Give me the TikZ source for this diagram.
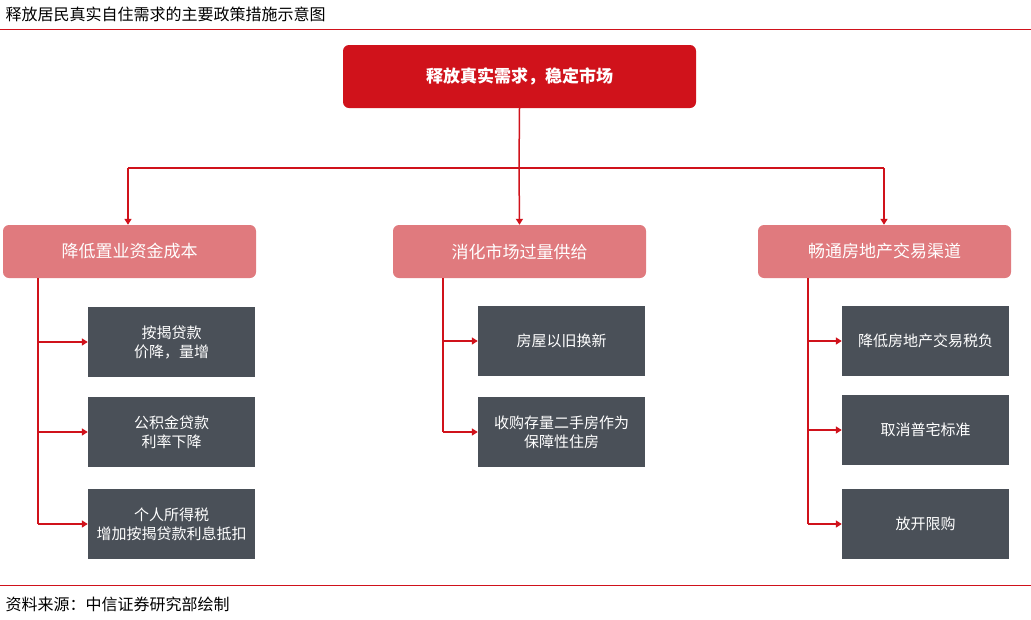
\documentclass[tikz,border=0pt]{standalone}
\usepackage{fontspec}
\setmainfont{Noto Sans CJK SC}
\usetikzlibrary{arrows.meta}
\definecolor{myred}{HTML}{D0121B}
\definecolor{mypink}{HTML}{E07A7E}
\definecolor{mygray}{HTML}{4A5058}
\begin{document}
\begin{tikzpicture}[x=1pt,y=-1pt,
  top/.style={fill=myred,rounded corners=6pt,text=white,font=\fontsize{17}{20}\selectfont\bfseries,minimum width=353pt,minimum height=63pt},
  mid/.style={fill=mypink,rounded corners=6pt,text=white,font=\fontsize{17}{20}\selectfont,minimum width=253pt,minimum height=53pt},
  leaf/.style={fill=mygray,text=white,font=\fontsize{15}{19}\selectfont,minimum width=167pt,minimum height=70pt,align=center,text width=160pt},
  conn/.style={draw=myred,line width=1.5pt},
  arr/.style={conn,-{Triangle[length=6pt,width=7pt]}}]
\useasboundingbox (0,0) rectangle (1031,619);
\node[anchor=west,font=\fontsize{16}{19}\selectfont] (title) at (2,14) {释放居民真实自住需求的主要政策措施示意图};
\draw[myred,line width=0.8pt] (0,29) -- (1031,29);
\draw[myred,line width=0.8pt] (0,585) -- (1031,585);
\node[anchor=west,font=\fontsize{16}{19}\selectfont] (src) at (2,604) {资料来源：中信证券研究部绘制};
\node[top] (T) at (519.5,76.5) {释放真实需求，稳定市场};
\node[mid] (A) at (129.5,251.5) {降低置业资金成本};
\node[mid] (B) at (519.5,251.5) {消化市场过量供给};
\node[mid] (C) at (884.5,251.5) {畅通房地产交易渠道};
\coordinate (h) at (519,168);
\draw[conn] (T.south) -- (h);
\draw[conn] (128,168) -- (884,168);
\draw[arr] (128,168) -- (A.north -| 128,0);
\draw[arr] (h) -- (B.north);
\draw[arr] (884,168) -- (C.north -| 884,0);
\node[leaf] (A1) at (171.5,342) {按揭贷款\\价降，量增};
\node[leaf] (A2) at (171.5,432) {公积金贷款\\利率下降};
\node[leaf] (A3) at (171.5,524) {个人所得税\\增加按揭贷款利息抵扣};
\node[leaf] (B1) at (561.5,341) {房屋以旧换新};
\node[leaf] (B2) at (561.5,432) {收购存量二手房作为\\保障性住房};
\node[leaf] (C1) at (925.5,341) {降低房地产交易税负};
\node[leaf] (C2) at (925.5,430) {取消普宅标准};
\node[leaf] (C3) at (925.5,524) {放开限购};
\draw[conn] (38,278) -- (38,524);
\foreach \n in {A1,A2,A3} \draw[arr] (38,0 |- \n.west) -- (\n.west);
\draw[conn] (443,278) -- (443,432);
\foreach \n in {B1,B2} \draw[arr] (443,0 |- \n.west) -- (\n.west);
\draw[conn] (808,278) -- (808,524);
\foreach \n in {C1,C2,C3} \draw[arr] (808,0 |- \n.west) -- (\n.west);
\end{tikzpicture}
\end{document}
